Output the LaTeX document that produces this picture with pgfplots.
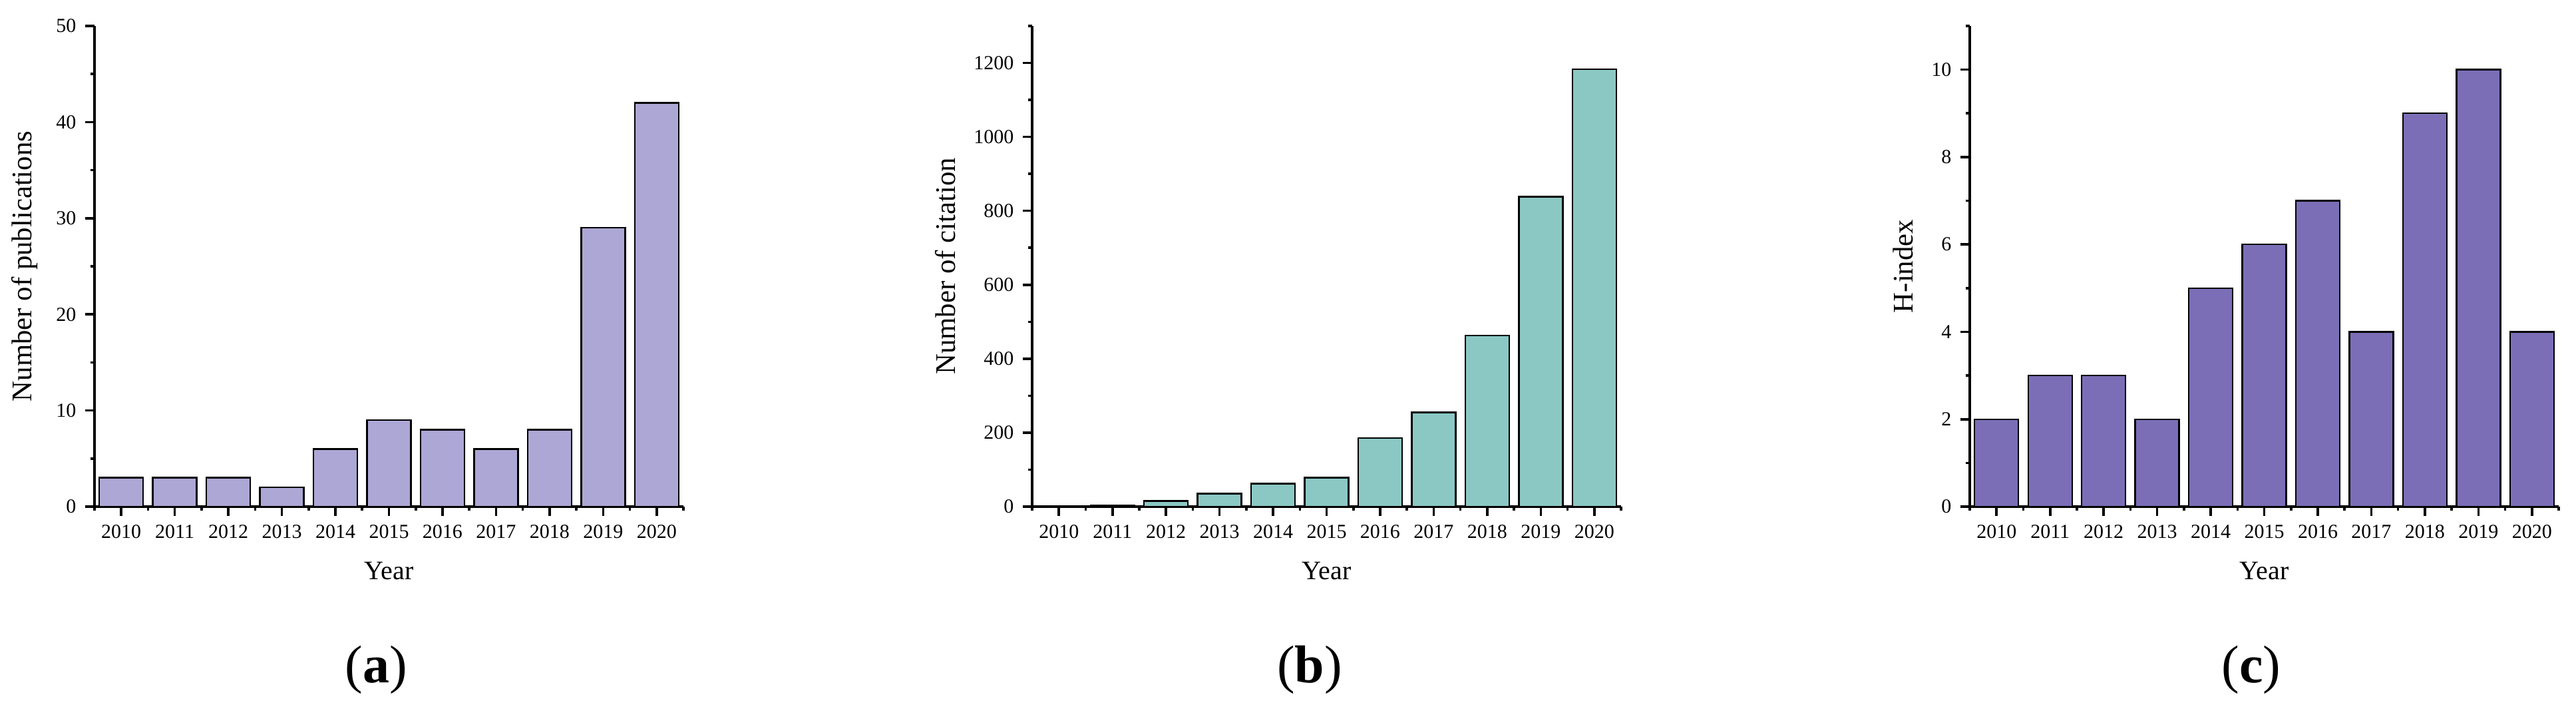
\documentclass[border=0pt]{standalone}
\usepackage{fontspec}
\setmainfont{Liberation Serif}
\usepackage{pgfplots}
\pgfplotsset{compat=1.18}

\definecolor{barA}{HTML}{ADA7D5}
\definecolor{barB}{HTML}{8BC8C4}
\definecolor{barC}{HTML}{7B6EB7}

\pgfplotsset{
  yearbars/.style={
    width=221.25pt, height=180.5pt, scale only axis,
    anchor=south west,
    axis lines=left,
    axis line style={line width=1pt,-},
    ybar, bar width=16.5pt,
    xmin=-0.5, xmax=10.5, ymin=0,
    xtick={0,...,10},
    xticklabels={2010,2011,2012,2013,2014,2015,2016,2017,2018,2019,2020},
    minor xtick={-0.5,0.5,...,10.5},
    tick align=outside,
    major tick length=3.4pt, minor tick length=1.6pt,
    tick style={black, line width=0.9pt},
    tick label style={font=\fontsize{7.5}{9}\selectfont},
    label style={font=\fontsize{10.7}{12}\selectfont},
    xlabel={Year},
    every axis x label/.style={at={(axis description cs:0.5,0)}, anchor=base, yshift=-27.25pt},
    /pgf/number format/assume math mode=true,
    /pgf/number format/1000 sep={},
    scaled y ticks=false,
  },
  bars/.style={fill=#1, draw=black, line width=0.6pt},
}

\begin{document}
\begin{tikzpicture}
\useasboundingbox (0,0) rectangle (967.75pt,265.25pt);

% (a) publications per year
\begin{axis}[yearbars, at={(35.5pt,75pt)},
    ymax=50, ytick={0,10,...,50}, minor ytick={5,15,...,45},
    ylabel={Number of publications}]
\addplot[bars=barA] coordinates {(0,3) (1,3) (2,3) (3,2) (4,6) (5,9) (6,8) (7,6) (8,8) (9,29) (10,42)};
\end{axis}

% (b) citations per year
\begin{axis}[yearbars, at={(387.75pt,75pt)},
    ymax=1300, ytick={0,200,...,1200}, minor ytick={100,300,...,1300},
    ylabel={Number of citation}]
\addplot[bars=barB] coordinates {(0,0) (1,4) (2,15) (3,35) (4,62) (5,78) (6,185) (7,255) (8,463) (9,838) (10,1183)};
\end{axis}

% (c) H-index per year
\begin{axis}[yearbars, at={(740pt,75pt)},
    ymax=11, ytick={0,2,...,10}, minor ytick={1,3,...,11},
    ylabel={H-index}]
\addplot[bars=barC] coordinates {(0,2) (1,3) (2,3) (3,2) (4,5) (5,6) (6,7) (7,4) (8,9) (9,10) (10,4)};
\end{axis}

\node[font=\fontsize{20}{24}\selectfont] at (141.25pt,13.75pt) {(\textbf{a})};
\node[font=\fontsize{20}{24}\selectfont] at (492pt,13.75pt) {(\textbf{b})};
\node[font=\fontsize{20}{24}\selectfont] at (845.75pt,13.75pt) {(\textbf{c})};
\end{tikzpicture}
\end{document}
